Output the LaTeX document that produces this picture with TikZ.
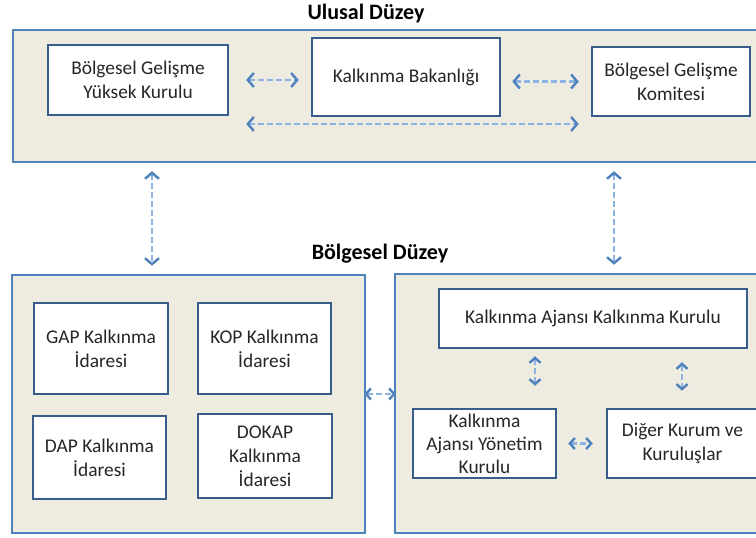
\documentclass[tikz,border=0pt]{standalone}
\usepackage{fontspec}
\setmainfont{Carlito}
\usepackage{tikz}
\usetikzlibrary{arrows.meta,positioning}
\definecolor{panelfill}{HTML}{EEECE1}
\definecolor{panelline}{HTML}{4F81BD}
\definecolor{boxline}{HTML}{385D8A}
\definecolor{linkline}{HTML}{8DB3E2}
\definecolor{tipline}{HTML}{4F81BD}
\definecolor{textgray}{HTML}{262626}

\begin{document}
\begin{tikzpicture}[x=1pt,y=1pt,>={Straight Barb[length=6pt,width=14pt,color=tipline]},
	panel/.style={draw=panelline,fill=panelfill,line width=2.5pt,inner sep=0pt},
	unit/.style={draw=boxline,fill=white,line width=2.5pt,align=center,inner sep=0pt,text=textgray,font=\fontsize{19.4}{24}\selectfont},
	title/.style={anchor=base,text=black,font=\fontsize{22}{26}\selectfont\bfseries},
	link/.style={<->,draw=linkline,line width=2.4pt,dash pattern=on 5.5pt off 3.5pt},
	shortlink/.style={>={Straight Barb[length=5pt,width=11pt,color=tipline]}}]
	\useasboundingbox (0,0) rectangle (756,538);

	% ulusal duzey
	\node[title] (t1) at (366,518) {Ulusal Düzey};
	\node[panel,minimum width=762pt,minimum height=132pt] (ulusal) at (394,442) {};
	\node[unit,minimum width=180pt,minimum height=70pt] (bgyk) at (138,458) {Bölgesel Gelişme\\Yüksek Kurulu};
	\node[unit,minimum width=188pt,minimum height=78pt] (kb) at (406,461) {Kalkınma Bakanlığı};
	\node[unit,minimum width=158pt,minimum height=69pt] (bgk) at (671,456.5) {Bölgesel Gelişme\\Komitesi};

	% bolgesel duzey
	\node[title] (t2) at (380,278) {Bölgesel Düzey};
	\node[panel,minimum width=353pt,minimum height=258pt] (sol) at (188.5,134) {};
	\node[panel,minimum width=380pt,minimum height=259pt] (sag) at (585,134.5) {};

	\node[unit,minimum width=134pt,minimum height=91pt] (gap) at (101,189.5) {GAP Kalkınma\\İdaresi};
	\node[unit,minimum width=133pt,minimum height=91pt] (kop) at (264.5,189.5) {KOP Kalkınma\\İdaresi};
	\node[unit,minimum width=133pt,minimum height=83pt] (dap) at (99.5,80.5) {DAP Kalkınma\\İdaresi};
	\node[unit,minimum width=134pt,minimum height=84pt] (dokap) at (265,82) {DOKAP\\Kalkınma\\İdaresi};

	\node[unit,minimum width=308pt,minimum height=59pt] (kakk) at (593,219.5) {Kalkınma Ajansı Kalkınma Kurulu};
	\node[unit,minimum width=143pt,minimum height=69pt,font=\fontsize{19.4}{23}\selectfont] (kayk) at (484.5,94.5) {Kalkınma\\Ajansı Yönetim\\Kurulu};
	\node[unit,minimum width=151pt,minimum height=69pt] (dkk) at (682.5,94.5) {Diğer Kurum ve\\Kuruluşlar};

	\coordinate (alt) at (0,414);
	\coordinate (orta) at (0,144);
	\coordinate (x1) at (152,0);
	\coordinate (x2) at (614,0);
	\coordinate (x3) at (535,0);
	\coordinate (x4) at (682,0);

	\path[every edge/.append style={link}]
	(bgyk.east) edge [shorten <=17pt,shorten >=12pt] (bgyk.east -| kb.west)
	(kb.east |- bgk.west) edge [shorten <=11pt,shorten >=12pt] (bgk.west)
	(bgyk.east |- alt) edge [shorten <=17pt,shorten >=12pt] (bgk.west |- alt)

	(x1 |- ulusal.south) edge [shorten <=8pt,shorten >=8pt] (x1 |- sol.north)
	(x2 |- ulusal.south) edge [shorten <=8pt,shorten >=8pt] (x2 |- sag.north)

	(sol.east |- orta) edge [shortlink,shorten <=-2pt,shorten >=-2pt] (sag.west |- orta)

	(x3 |- kakk.south) edge [shortlink,shorten <=7pt,shorten >=22pt] (x3 |- kayk.north)
	(x4 |- kakk.south) edge [shortlink,shorten <=13pt,shorten >=17pt] (x4 |- dkk.north)
	(kayk.east) edge [shortlink,shorten <=11pt,shorten >=13pt] (dkk.west)
	;
\end{tikzpicture}
\end{document}
